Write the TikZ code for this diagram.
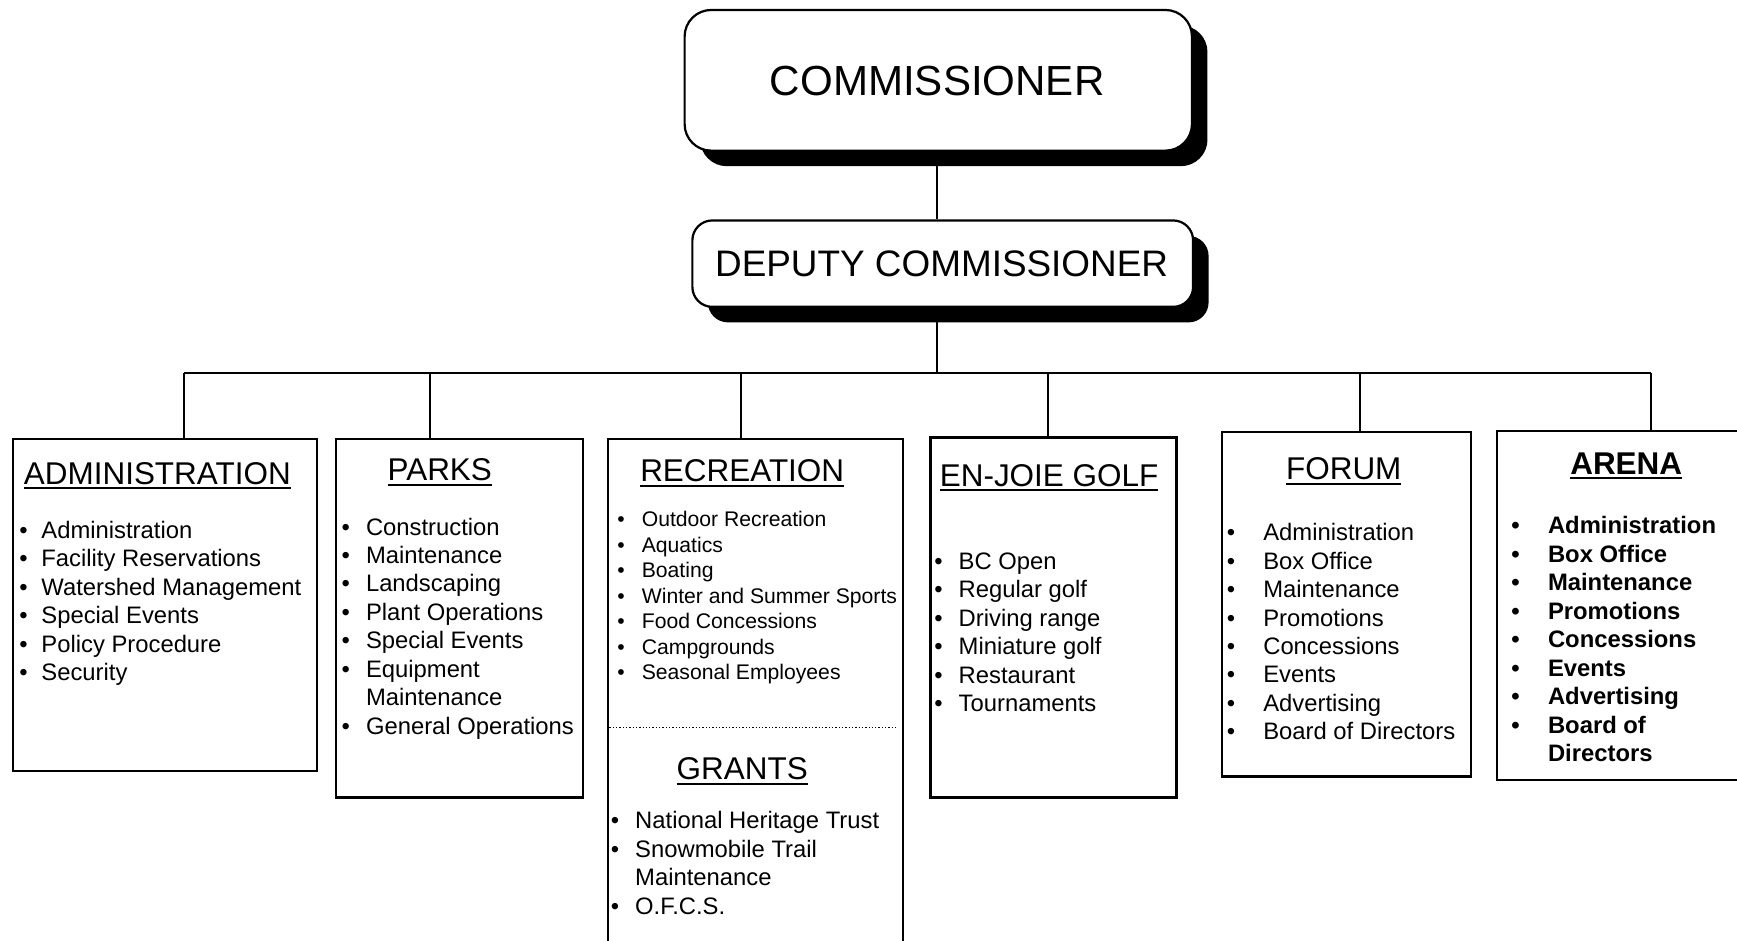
\documentclass[tikz,border=0pt]{standalone}
\usepackage{fontspec}
\setmainfont{Liberation Sans}
\usetikzlibrary{shadows}
\newcommand{\ttl}[1]{\setbox0\hbox{#1}\rlap{\rule[-2.2pt]{\wd0}{0.9pt}}\box0}
\newlength\bw
\newcommand{\bi}{\makebox[\bw][l]{•}}
\newcommand{\nb}{\hspace*{\bw}}
\begin{document}
\begin{tikzpicture}[x=0.5pt,y=-0.5pt,
  top/.style={draw, line width=1pt, rounded corners=12pt, fill=white, inner sep=0pt,
    anchor=north west, drop shadow={shadow xshift=7pt, shadow yshift=-7pt, fill=black, opacity=1}},
  unit/.style={draw, line width=1pt, fill=white, inner sep=0pt, anchor=north west},
  link/.style={line width=0.8pt},
  title/.style={anchor=base, inner sep=0pt, font=\fontsize{14.2pt}{16pt}\selectfont},
  items/.style={anchor=base west, inner sep=0pt, font=\fontsize{10.75pt}{12.85pt}\selectfont},
  smallitems/.style={anchor=base west, inner sep=0pt, font=\fontsize{9.55pt}{11.5pt}\selectfont}]
\useasboundingbox (0,0) rectangle (1568,849.4);
\fill[white] (0,0) rectangle (1568,849.4);
\begin{scope}
\clip (0,0) rectangle (1568,849.4);
% top boxes
\node[top, minimum width=229pt, minimum height=63.5pt] (com) at (617,8) {};
\node[font=\fontsize{19pt}{22pt}\selectfont, inner sep=0pt] (comt) at (846,73) {COMMISSIONER};
\node[top, rounded corners=9pt, minimum width=226pt, minimum height=39pt] (dep) at (624,198) {};
\node[font=\fontsize{16.65pt}{20pt}\selectfont, inner sep=0pt] (dept) at (850,238) {DEPUTY COMMISSIONER};
% unit boxes
\node[unit, minimum width=137pt, minimum height=150pt] (adm) at (11,395) {};
\node[unit, minimum width=111.5pt, minimum height=162pt] (prk) at (302,395) {};
\node[unit, minimum width=133pt, minimum height=240pt] (rec) at (548,395) {};
\node[unit, minimum width=111pt, minimum height=162.5pt] (glf) at (839,394) {};
\node[unit, minimum width=112.5pt, minimum height=155.5pt] (frm) at (1102,389) {};
\node[unit, minimum width=125pt, minimum height=157.5pt] (arn) at (1350,388) {};
% connectors
\coordinate (bus) at (846,337);
\coordinate (b1) at (166,337);
\coordinate (b2) at (388,337);
\coordinate (b3) at (669,337);
\coordinate (b4) at (946,337);
\coordinate (b5) at (1228,337);
\coordinate (b6) at (1490,337);
\draw[link] (com.south -| bus) -- (dep.north -| bus);
\draw[link] (dep.south -| bus) -- (bus);
\draw[link] (b1) -- (b6);
\draw[link] (b1) -- (b1 |- adm.north);
\draw[link] (b2) -- (b2 |- prk.north);
\draw[link] (b3) -- (b3 |- rec.north);
\draw[link] (b4) -- (b4 |- glf.north);
\draw[link] (b5) -- (b5 |- frm.north);
\draw[link] (b6) -- (b6 |- arn.north);
% dotted separator
\coordinate (sepL) at (550,657);
\coordinate (sepR) at (810,657);
\draw[line width=0.5pt, dash pattern=on 0.6pt off 0.9pt] (sepL) -- (sepR);
% titles
\node[title] (admT) at (142,437) {\ttl{ADMINISTRATION}};
\node[title] (prkT) at (397,434) {\ttl{PARKS}};
\node[title] (recT) at (670,435) {\ttl{RECREATION}};
\node[title] (grtT) at (670,704) {\ttl{GRANTS}};
\node[title] (glfT) at (947,439) {\ttl{EN-JOIE GOLF}};
\node[title] (frmT) at (1213,433) {\ttl{FORUM}};
\node[title, font=\fontsize{14.2pt}{16pt}\selectfont\bfseries] (arnT) at (1468,428) {\ttl{ARENA}};
% item lists
\node[items] (admL) at (17,486) {\setlength\bw{10pt}\begin{tabular}[t]{@{}l@{}}
\bi Administration\\ \bi Facility Reservations\\ \bi Watershed Management\\
\bi Special Events\\ \bi Policy Procedure\\ \bi Security\end{tabular}};
\node[items] (prkL) at (308,483) {\setlength\bw{11pt}\begin{tabular}[t]{@{}l@{}}
\bi Construction\\ \bi Maintenance\\ \bi Landscaping\\ \bi Plant Operations\\
\bi Special Events\\ \bi Equipment\\ \nb Maintenance\\ \bi General Operations\end{tabular}};
\node[smallitems] (recL) at (557,475.5) {\setlength\bw{11pt}\begin{tabular}[t]{@{}l@{}}
\bi Outdoor Recreation\\ \bi Aquatics\\ \bi Boating\\ \bi Winter and Summer Sports\\
\bi Food Concessions\\ \bi Campgrounds\\ \bi Seasonal Employees\end{tabular}};
\node[items] (grtL) at (551,748) {\setlength\bw{11pt}\begin{tabular}[t]{@{}l@{}}
\bi National Heritage Trust\\ \bi Snowmobile Trail\\ \nb Maintenance\\ \bi O.F.C.S.\end{tabular}};
\node[items] (glfL) at (843,514) {\setlength\bw{11pt}\begin{tabular}[t]{@{}l@{}}
\bi BC Open\\ \bi Regular golf\\ \bi Driving range\\ \bi Miniature golf\\
\bi Restaurant\\ \bi Tournaments\end{tabular}};
\node[items] (frmL) at (1107,488) {\setlength\bw{16.5pt}\begin{tabular}[t]{@{}l@{}}
\bi Administration\\ \bi Box Office\\ \bi Maintenance\\ \bi Promotions\\
\bi Concessions\\ \bi Events\\ \bi Advertising\\ \bi Board of Directors\end{tabular}};
\node[items, font=\fontsize{10.75pt}{12.85pt}\selectfont\bfseries] (arnL) at (1364,482) {\setlength\bw{16.5pt}\begin{tabular}[t]{@{}l@{}}
\bi Administration\\ \bi Box Office\\ \bi Maintenance\\ \bi Promotions\\
\bi Concessions\\ \bi Events\\ \bi Advertising\\ \bi Board of\\ \nb Directors\end{tabular}};
\end{scope}
\end{tikzpicture}
\end{document}
